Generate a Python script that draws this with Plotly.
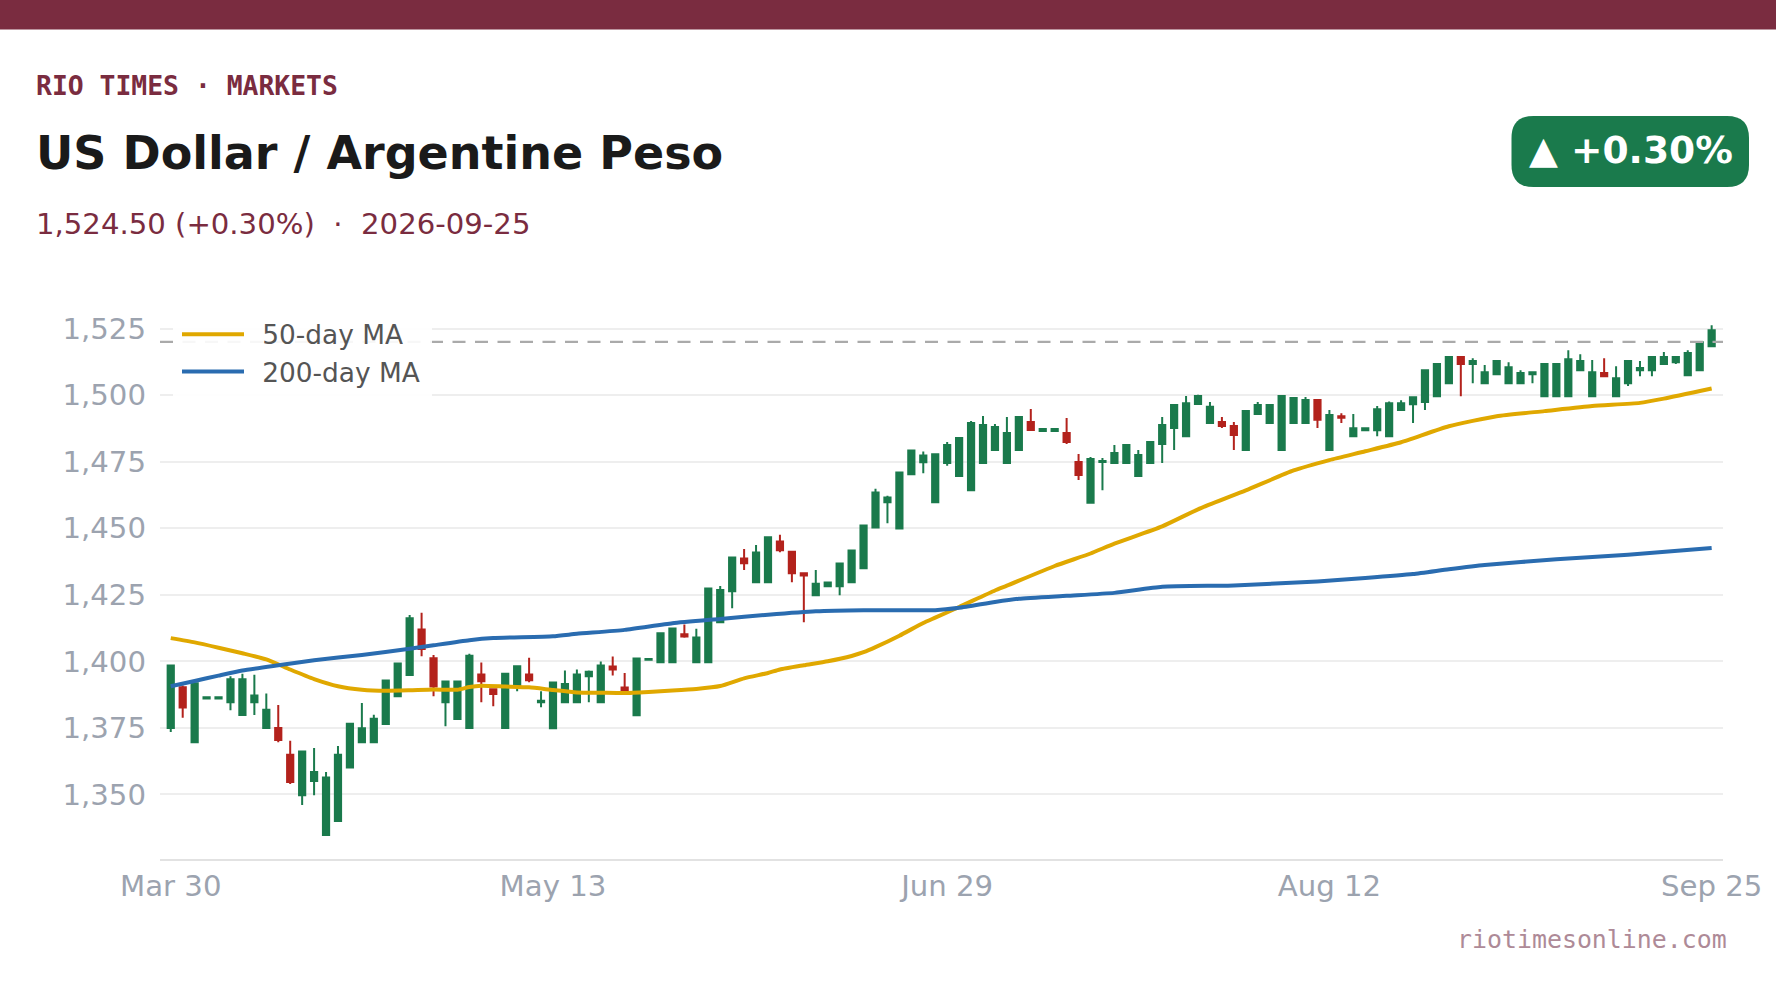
import pandas as pd
import plotly.graph_objects as go

# trading days, one candle per weekday
dates = [d.strftime("%Y-%m-%d") for d in pd.bdate_range("2026-03-30", "2026-09-25")]

opens = [1374.9, 1390.2, 1369.6, 1386.0, 1386.0, 1384.6, 1379.8, 1384.6, 1374.9, 1374.9,
         1364.9, 1349.7, 1355.0, 1334.7, 1340.0, 1360.1, 1369.6, 1369.6, 1376.4, 1386.9,
         1394.8, 1411.9, 1401.1, 1384.6, 1378.3, 1374.9, 1395.0, 1389.5, 1374.9, 1390.6,
         1395.0, 1384.6, 1374.8, 1384.6, 1384.6, 1394.4, 1384.6, 1398.0, 1390.1, 1379.7,
         1400.6, 1399.6, 1399.6, 1410.2, 1399.6, 1399.6, 1414.7, 1426.3, 1438.6, 1429.7,
         1429.7, 1445.0, 1441.2, 1433.1, 1424.8, 1428.2, 1428.2, 1429.7, 1435.0, 1450.3,
         1459.8, 1449.9, 1470.3, 1474.8, 1459.8, 1474.5, 1469.6, 1464.3, 1474.5, 1479.4,
         1474.5, 1479.4, 1489.9, 1486.5, 1486.5, 1485.8, 1474.9, 1459.6, 1474.9, 1474.5,
         1474.5, 1469.6, 1474.5, 1481.6, 1487.7, 1484.6, 1496.7, 1489.5, 1489.9, 1488.4,
         1479.4, 1492.9, 1489.5, 1479.4, 1489.5, 1489.5, 1498.2, 1479.4, 1492.1, 1484.6,
         1486.8, 1486.8, 1484.6, 1494.4, 1496.6, 1497.4, 1499.6, 1504.5, 1514.3, 1511.7,
         1504.5, 1507.9, 1504.5, 1504.5, 1507.9, 1499.6, 1499.6, 1499.6, 1509.4, 1499.6,
         1508.3, 1499.6, 1504.5, 1509.4, 1509.4, 1511.7, 1512.4, 1507.5, 1509.4, 1518.4]
closes = [1398.4, 1382.6, 1391.7, 1386.5, 1386.5, 1393.2, 1393.2, 1387.1, 1381.8, 1370.4,
          1354.6, 1366.1, 1358.4, 1356.3, 1364.9, 1376.5, 1374.8, 1378.4, 1392.8, 1399.2,
          1416.2, 1404.6, 1390.5, 1392.4, 1392.4, 1402.1, 1392.5, 1387.7, 1395.3, 1398.1,
          1392.9, 1385.2, 1392.0, 1391.5, 1395.0, 1396.1, 1398.4, 1396.9, 1389.2, 1401.0,
          1400.9, 1410.5, 1412.3, 1409.3, 1408.9, 1427.3, 1426.8, 1439.0, 1436.8, 1440.9,
          1446.6, 1441.7, 1433.1, 1432.2, 1429.1, 1429.6, 1436.7, 1441.6, 1451.0, 1463.4,
          1461.5, 1470.9, 1479.2, 1477.3, 1477.8, 1481.3, 1483.9, 1489.5, 1488.8, 1488.0,
          1485.8, 1491.8, 1486.9, 1487.3, 1487.3, 1482.4, 1470.0, 1476.0, 1475.3, 1478.3,
          1481.3, 1477.5, 1482.4, 1488.8, 1496.3, 1497.0, 1499.7, 1495.6, 1488.4, 1485.0,
          1494.0, 1496.3, 1496.3, 1499.7, 1498.9, 1498.2, 1490.8, 1492.5, 1491.5, 1487.6,
          1487.6, 1494.7, 1497.0, 1497.0, 1499.2, 1509.4, 1511.7, 1514.3, 1511.7, 1512.8,
          1508.6, 1512.8, 1510.5, 1508.3, 1508.6, 1511.7, 1511.7, 1513.5, 1512.8, 1508.6,
          1507.1, 1506.4, 1512.8, 1510.2, 1514.3, 1514.3, 1514.3, 1515.8, 1519.9, 1524.4]
highs = [1398.7, 1390.9, 1391.7, 1386.6, 1386.6, 1394.4, 1395.3, 1394.9, 1387.9, 1383.6,
         1370.1, 1366.4, 1367.4, 1358.4, 1368.2, 1376.7, 1384.3, 1379.9, 1393.1, 1399.4,
         1417.4, 1418.2, 1402.4, 1392.6, 1392.6, 1402.8, 1399.5, 1389.5, 1395.5, 1398.4,
         1401.3, 1388.7, 1392.3, 1396.5, 1396.9, 1396.5, 1399.9, 1401.8, 1395.6, 1401.3,
         1401.1, 1410.7, 1412.5, 1413.8, 1412.2, 1427.5, 1428.3, 1439.2, 1442.2, 1443.7,
         1446.8, 1447.5, 1441.4, 1433.3, 1434.3, 1429.9, 1436.9, 1441.9, 1451.2, 1464.8,
         1462.2, 1471.1, 1479.4, 1478.8, 1478.0, 1482.4, 1484.1, 1490.3, 1492.2, 1489.2,
         1491.8, 1492.0, 1494.8, 1487.6, 1487.6, 1491.4, 1477.9, 1476.8, 1476.4, 1481.3,
         1481.5, 1479.4, 1482.6, 1491.8, 1496.5, 1499.7, 1500.2, 1497.4, 1491.8, 1489.9,
         1494.2, 1497.4, 1496.5, 1499.9, 1499.1, 1499.3, 1498.6, 1494.4, 1493.2, 1492.9,
         1487.8, 1495.9, 1497.6, 1498.1, 1499.4, 1509.6, 1511.9, 1514.5, 1514.5, 1513.9,
         1511.3, 1513.0, 1512.4, 1509.4, 1508.8, 1511.9, 1511.9, 1516.9, 1515.4, 1513.2,
         1513.9, 1510.9, 1513.0, 1512.8, 1514.5, 1516.2, 1514.5, 1516.9, 1520.1, 1526.3]
lows = [1373.4, 1378.8, 1369.6, 1385.8, 1385.8, 1381.6, 1379.6, 1379.8, 1374.7, 1369.6,
        1353.9, 1346.0, 1349.7, 1334.5, 1339.8, 1359.9, 1369.4, 1369.4, 1376.2, 1386.7,
        1394.6, 1401.9, 1386.9, 1375.6, 1378.1, 1374.7, 1384.6, 1383.1, 1374.7, 1388.7,
        1392.1, 1382.7, 1374.6, 1384.4, 1384.4, 1384.6, 1384.4, 1394.7, 1388.7, 1379.5,
        1400.4, 1399.4, 1399.4, 1408.8, 1399.4, 1399.4, 1414.5, 1419.9, 1434.3, 1429.5,
        1429.5, 1441.0, 1429.7, 1414.7, 1424.6, 1428.0, 1424.8, 1429.5, 1434.8, 1450.1,
        1451.9, 1449.7, 1470.1, 1470.7, 1459.6, 1473.5, 1469.4, 1464.1, 1474.3, 1479.2,
        1474.3, 1479.2, 1486.6, 1486.3, 1486.3, 1481.6, 1468.1, 1459.4, 1464.3, 1474.3,
        1474.3, 1469.4, 1474.3, 1474.5, 1479.4, 1484.4, 1496.5, 1489.3, 1487.7, 1479.4,
        1479.2, 1492.7, 1489.3, 1479.2, 1489.3, 1489.3, 1487.7, 1479.2, 1489.5, 1484.4,
        1486.6, 1484.6, 1484.4, 1494.2, 1489.5, 1494.4, 1499.4, 1504.3, 1499.6, 1504.5,
        1504.3, 1507.7, 1504.3, 1504.3, 1504.5, 1499.4, 1499.4, 1499.4, 1509.2, 1499.4,
        1507.0, 1499.4, 1503.4, 1507.1, 1507.1, 1511.5, 1511.7, 1507.3, 1509.2, 1518.2]

# moving averages
ma50_idx = [0, 2, 4, 6, 8, 10, 12, 14, 16, 18, 20, 22, 24, 25, 26, 28, 30, 32, 34, 36, 38, 40,
            42, 44, 46, 48, 50, 51, 53, 55, 57, 58, 59, 61, 63, 64, 66, 69, 70, 74, 77, 79, 83, 86,
            90, 94, 97, 100, 103, 107, 111, 115, 119, 123, 125, 129]
ma50_vals = [1408.7, 1407.1, 1405.1, 1403.0, 1400.7, 1396.9, 1393.3, 1390.6, 1389.3, 1388.9,
             1389.1, 1389.4, 1389.3, 1390.3, 1390.8, 1390.5, 1390.2, 1389.2, 1388.3, 1388.2,
             1388.1, 1388.5, 1389.0, 1389.6, 1390.7, 1393.6, 1395.6, 1396.9, 1398.5, 1400.0,
             1402.0, 1403.4, 1405.3, 1409.6, 1414.4, 1416.4, 1420.4, 1426.6, 1428.4, 1435.8,
             1440.5, 1444.2, 1450.7, 1457.1, 1464.2, 1471.7, 1475.6, 1478.9, 1482.3, 1488.3,
             1492.1, 1494.0, 1495.9, 1497.1, 1498.7, 1502.5]
ma200_idx = [0, 2, 4, 6, 9, 12, 16, 20, 22, 25, 27, 32, 34, 38, 42, 46, 50, 54, 58, 64, 66, 69,
             71, 75, 79, 83, 89, 96, 100, 104, 107, 110, 116, 122, 129]
ma200_vals = [1390.6, 1392.6, 1394.6, 1396.5, 1398.5, 1400.4, 1402.4, 1404.7, 1406.0, 1407.9,
              1408.7, 1409.4, 1410.3, 1411.8, 1414.3, 1415.9, 1417.5, 1418.8, 1419.2, 1419.2,
              1420.1, 1422.3, 1423.5, 1424.6, 1425.7, 1428.0, 1428.5, 1430.0, 1431.3, 1432.8,
              1434.6, 1436.2, 1438.3, 1440.0, 1442.6]

y_ticks = [1350, 1375, 1400, 1425, 1450, 1475, 1500, 1525]
x_ticks = ["2026-03-30", "2026-05-13", "2026-06-29", "2026-08-12", "2026-09-25"]
x_labels = ["Mar 30", "May 13", "Jun 29", "Aug 12", "Sep 25"]
ref_level = 1520

W, H = 1776, 999
M_L, M_R, M_T, M_B = 160, 53, 310, 140
MAROON = "#7a2c40"
GREEN = "#1a7a4c"
RED = "#b3221c"


# page pixels to paper coordinates, paper only spans the plot area
def px(x):
    return (x - M_L) / (W - M_L - M_R)


def py(y):
    return (H - M_B - y) / (H - M_T - M_B)


def round_rect(x0, y0, x1, y1, r):
    # plotly rects have no corner radius
    return (f"M {px(x0 + r)} {py(y0)} L {px(x1 - r)} {py(y0)} "
            f"Q {px(x1)} {py(y0)} {px(x1)} {py(y0 + r)} L {px(x1)} {py(y1 - r)} "
            f"Q {px(x1)} {py(y1)} {px(x1 - r)} {py(y1)} L {px(x0 + r)} {py(y1)} "
            f"Q {px(x0)} {py(y1)} {px(x0)} {py(y1 - r)} L {px(x0)} {py(y0 + r)} "
            f"Q {px(x0)} {py(y0)} {px(x0 + r)} {py(y0)} Z")


def label(text, x, y, size, color, family="DejaVu Sans", bold=False, anchor="left"):
    return dict(text=f"<b>{text}</b>" if bold else text, x=px(x), y=py(y), xref="paper", yref="paper",
                xanchor=anchor, yanchor="middle", showarrow=False,
                font=dict(family=family, size=size, color=color))


fig = go.Figure()
fig.add_trace(go.Candlestick(
    x=dates, open=opens, high=highs, low=lows, close=closes, showlegend=False,
    increasing=dict(line=dict(color=GREEN, width=2), fillcolor=GREEN),
    decreasing=dict(line=dict(color=RED, width=2), fillcolor=RED),
    whiskerwidth=0))
fig.add_trace(go.Scatter(x=[dates[i] for i in ma50_idx], y=ma50_vals, mode="lines",
                         name="\u200250-day MA",
                         line=dict(color="#e0a800", width=4, shape="spline", smoothing=0.5)))
fig.add_trace(go.Scatter(x=[dates[i] for i in ma200_idx], y=ma200_vals, mode="lines",
                         name="\u2002200-day MA",
                         line=dict(color="#2a6cb0", width=4, shape="spline", smoothing=0.5)))

fig.add_shape(type="line", xref="paper", x0=0, x1=1, yref="y", y0=ref_level, y1=ref_level,
              line=dict(color="#aaaaaa", width=2.2, dash="13px,9.5px"), layer="above")
# legend backing, fades the gridlines and the dashed level behind it
fig.add_shape(type="rect", xref="paper", yref="paper", x0=px(173), x1=px(432), y0=py(398), y1=py(315),
              fillcolor="rgba(255,255,255,0.9)", line_width=0, layer="above")
fig.add_shape(type="rect", xref="paper", yref="paper", x0=px(0), x1=px(W), y0=py(29.5), y1=py(0),
              fillcolor=MAROON, line_width=0)
fig.add_shape(type="path", xref="paper", yref="paper", path=round_rect(1511.5, 116, 1749, 187, 22),
              fillcolor=GREEN, line_width=0)

fig.update_layout(
    width=W, height=H, margin=dict(l=M_L, r=M_R, t=M_T, b=M_B),
    paper_bgcolor="white", plot_bgcolor="white",
    font=dict(family="DejaVu Sans"),
    boxgap=0.48, boxgroupgap=0,
    annotations=[
        label("RIO TIMES · MARKETS", 33.7, 86, 26.4, MAROON, "DejaVu Sans Mono", True),
        label("US Dollar / Argentine Peso", 33.7, 153, 46, "#1a1a1a", bold=True),
        label("1,524.50 (+0.30%)  ·  2026-09-25", 33.7, 224, 29.15, MAROON),
        label("▲ +0.30%", 1630.5, 150, 37.6, "white", bold=True, anchor="center"),
        label("riotimesonline.com", 1728.5, 939.5, 24.9, "#ae8a97", "DejaVu Sans Mono", anchor="right"),
    ],
    legend=dict(x=px(177), xanchor="left", y=py(310.5), yanchor="top", bgcolor="rgba(0,0,0,0)",
                font=dict(size=26.4, color="#555555"), itemwidth=62),
    xaxis=dict(type="category", categoryorder="array", categoryarray=dates, range=[-0.9, 129.95],
               tickmode="array", tickvals=x_ticks, ticktext=x_labels, showgrid=False,
               rangeslider=dict(visible=False), showline=True, linecolor="#e2e2e2", linewidth=1.5,
               ticks="", tickfont=dict(size=29.2, color="#9ca3af")),
    yaxis=dict(range=[1325.7, 1532], tickmode="array", tickvals=y_ticks, tickformat=",d",
               showgrid=True, gridcolor="#eeeeee", gridwidth=1.5, zeroline=False, ticks="",
               ticklabelstandoff=13, tickfont=dict(size=29.2, color="#9ca3af")),
)

# browser default body margin would shift the fixed size figure
fig.write_html("out.html", config=dict(displayModeBar=False),
               post_script="document.body.style.margin='0';")
